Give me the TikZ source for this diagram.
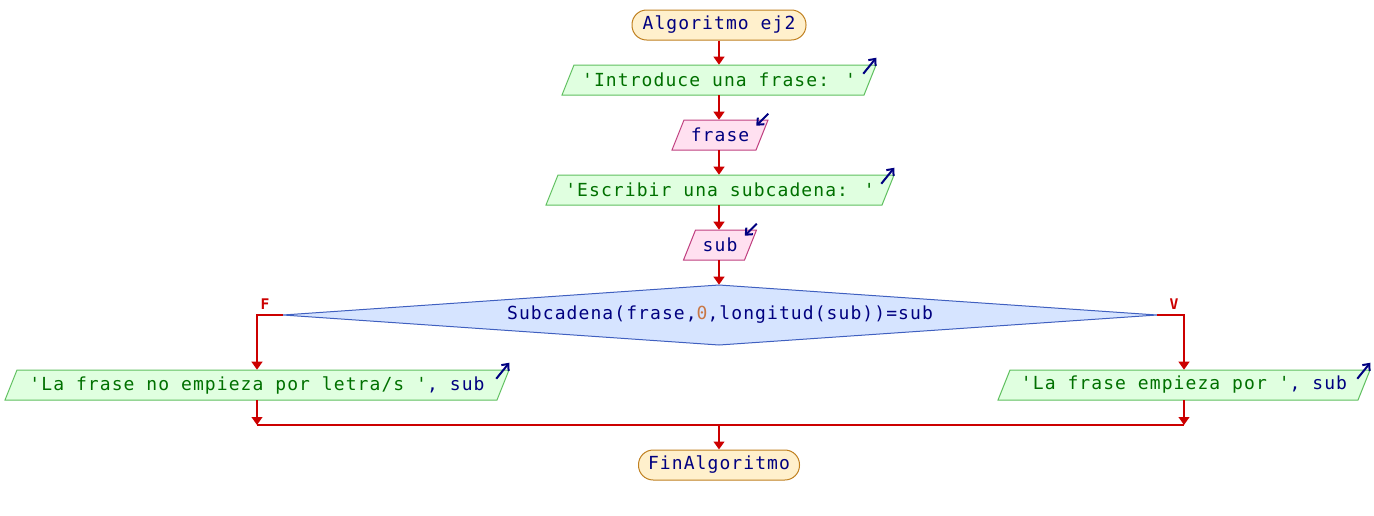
\documentclass[tikz,border=0pt]{standalone}
\usepackage{fontspec}
\usetikzlibrary{arrows.meta}
\newfontfamily\codefont{DejaVu Sans Mono}[LetterSpace=6,Ligatures=TeXOff]
\definecolor{edge}{RGB}{204,0,0}
\definecolor{termfill}{RGB}{255,240,204}
\definecolor{termdraw}{RGB}{192,128,32}
\definecolor{outfill}{RGB}{224,255,224}
\definecolor{outdraw}{RGB}{96,192,96}
\definecolor{infill}{RGB}{255,224,240}
\definecolor{indraw}{RGB}{192,64,128}
\definecolor{decfill}{RGB}{214,228,255}
\definecolor{decdraw}{RGB}{64,96,192}
\definecolor{strcol}{RGB}{0,112,0}
\definecolor{varcol}{RGB}{0,0,128}
\definecolor{numcol}{RGB}{200,120,70}
\newcommand\parabox[6]{% name, style, cx, cy, halfwidth, text
  \path[#2] ({#3-#5-6},{#4+15}) -- ({#3-#5+6},{#4-15}) -- ({#3+#5+6},{#4-15}) -- ({#3+#5-6},{#4+15}) -- cycle;
  \node[box, minimum width={2*#5*0.75pt}] (#1) at (#3,#4) {#6};}
\begin{document}
\begin{tikzpicture}[x=0.75pt,y=-0.75pt,
  every node/.style={font=\codefont\fontsize{13.5}{15}\selectfont, inner sep=0pt},
  term/.style={draw=termdraw, fill=termfill, line width=0.75pt, rounded corners=11pt, minimum height=22.5pt, text=varcol},
  box/.style={minimum height=22.5pt},
  flow/.style={draw=edge, line width=1.5pt, -{Triangle[width=8pt,length=6pt]}},
  joinline/.style={draw=edge, line width=1.5pt},
  iconarr/.style={draw=varcol, line width=1.5pt, -{Straight Barb[length=4pt,width=7pt]}},
  outshape/.style={draw=outdraw, fill=outfill, line width=0.75pt},
  inshape/.style={draw=indraw, fill=infill, line width=0.75pt},
  decshape/.style={draw=decdraw, fill=decfill, line width=0.75pt},
  lbl/.style={text=edge, font=\codefont\fontsize{11}{12}\selectfont\bfseries}
]
\useasboundingbox (0,0) rectangle (1374,515);
\node[term, minimum width={174*0.75pt}] (start) at (719,25) {Algoritmo ej2};
\parabox{o1}{outshape}{719}{80}{151}{\textcolor{strcol}{'Introduce una frase: '}}
\parabox{i1}{inshape}{720}{135}{42}{\textcolor{varcol}{frase}}
\parabox{o2}{outshape}{720}{190}{168}{\textcolor{strcol}{'Escribir una subcadena: '}}
\parabox{i2}{inshape}{720}{245}{30.5}{\textcolor{varcol}{sub}}
\path[decshape] (283,315) -- (719,285) -- (1157,315) -- (719,345) -- cycle;
\node[box, minimum width={874*0.75pt}, minimum height={60*0.75pt}, text=varcol] (dec) at (720,315)
  {Subcadena(frase,\textcolor{numcol}{0},longitud(sub))=sub};
\parabox{o3}{outshape}{257}{385}{246}{\textcolor{strcol}{'La frase no empieza por letra/s '}\textcolor{varcol}{, sub}}
\parabox{o4}{outshape}{1184}{385}{180}{\textcolor{strcol}{'La frase empieza por '}\textcolor{varcol}{, sub}}
\node[term, minimum width={161*0.75pt}] (end) at (719,465) {FinAlgoritmo};
\node[lbl] (lf) at (265,304) {F};
\node[lbl] (lv) at (1174,304) {V};
% icons
\foreach \n in {o1,o2,o3,o4}{
  \draw[iconarr] ([shift={(-7,9)}]\n.north east) -- ([shift={(6,-7)}]\n.north east);}
\foreach \n in {i1,i2}{
  \draw[iconarr] ([shift={(6,-6)}]\n.north east) -- ([shift={(-6,6)}]\n.north east);}
% connectors
\draw[flow] (start) -- (o1);
\draw[flow] (o1) -- (i1.north -| o1);
\draw[flow] (i1.south -| o1) -- (o2.north -| o1);
\draw[flow] (o2.south -| o1) -- (i2.north -| o1);
\draw[flow] (i2.south -| o1) -- (dec.north -| o1);
\draw[flow] (dec.west) -| (o3.north);
\draw[flow] (dec.east) -| (o4.north);
\coordinate (jl) at (257,425);
\coordinate (jr) at (1184,425);
\coordinate (jm) at (719,425);
\draw[flow] (o3.south) -- (jl);
\draw[flow] (o4.south) -- (jr);
\draw[joinline] (jl) -- (jr);
\draw[flow] (jm) -- (end);
\end{tikzpicture}
\end{document}
